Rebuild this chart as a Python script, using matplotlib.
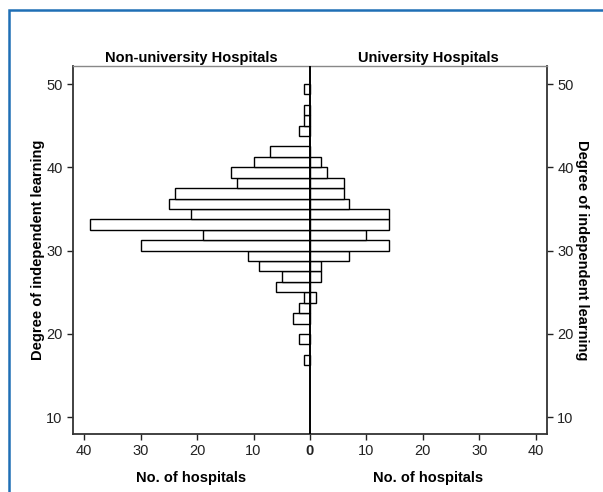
import numpy as np
import matplotlib
matplotlib.use("Agg")
import matplotlib.pyplot as plt
from matplotlib.patches import Rectangle

plt.rcParams["font.family"] = ["Liberation Sans", "DejaVu Sans"]
plt.rcParams["font.size"] = 10

# histogram bins of "degree of independent learning" (lower edges, width 1.25)
bin_lower = [16.25, 17.5, 18.75, 20.0, 21.25, 22.5, 23.75, 25.0, 26.25,
             27.5, 28.75, 30.0, 31.25, 32.5, 33.75, 35.0, 36.25, 37.5,
             38.75, 40.0, 41.25, 42.5, 43.75, 45.0, 46.25, 47.5, 48.75]
bin_width = 1.25

# number of hospitals per bin
non_university = [1, 0, 2, 0, 3, 2, 1, 6, 5, 9, 11, 30, 19, 39, 21, 25, 24, 13,
                  14, 10, 7, 0, 2, 1, 1, 0, 1]
university = [0, 0, 0, 0, 0, 0, 1, 0, 2, 2, 7, 14, 10, 14, 14, 7, 6, 6,
              3, 2, 0, 0, 0, 0, 0, 0, 0]

x_ticks = [-40, -30, -20, -10, 0, 10, 20, 30, 40]
y_ticks = [10, 20, 30, 40, 50]

fig = plt.figure(figsize=(6.03, 4.92), dpi=100)
ax = fig.add_axes([0.121, 0.118, 0.786, 0.7485])

centers = np.array(bin_lower) + bin_width / 2
nu = np.array(non_university)
un = np.array(university)

m = nu > 0
ax.barh(centers[m], -nu[m], height=bin_width, color="white",
        edgecolor="black", linewidth=1.0, zorder=2)
m = un > 0
ax.barh(centers[m], un[m], height=bin_width, color="white",
        edgecolor="black", linewidth=1.0, zorder=2)

ax.axvline(0, color="black", linewidth=1.4, zorder=3)

ax.set_xlim(-42, 42)
ax.set_ylim(8, 52.2)
ax.set_xticks(x_ticks)
ax.set_xticklabels([str(abs(t)) for t in x_ticks])
for lbl in ax.get_xticklabels():
    if lbl.get_text() == "0":
        lbl.set_fontweight("bold")
ax.set_yticks(y_ticks)
ax.tick_params(direction="out", length=4, width=1, colors="#222222",
               labelsize=10.5, left=True, labelleft=True,
               right=True, labelright=True)
ax.grid(False)

for side in ["left", "right", "bottom"]:
    ax.spines[side].set_color("#333333")
    ax.spines[side].set_linewidth(1.3)
ax.spines["top"].set_color("#888888")
ax.spines["top"].set_linewidth(1.0)

# y labels on both sides
fig.text(38 / 603, 1 - 250 / 492, "Degree of independent learning",
         rotation=90, ha="center", va="center", fontweight="bold", fontsize=10.5)
fig.text(582 / 603, 1 - 250 / 492, "Degree of independent learning",
         rotation=270, ha="center", va="center", fontweight="bold", fontsize=10.5)

# panel titles and x labels
ax.text(-21, 1.002, "Non-university Hospitals", transform=ax.get_xaxis_transform(),
        ha="center", va="bottom", fontweight="bold", fontsize=10.5)
ax.text(21, 1.002, "University Hospitals", transform=ax.get_xaxis_transform(),
        ha="center", va="bottom", fontweight="bold", fontsize=10.5)
ax.text(-21, -0.1, "No. of hospitals", transform=ax.get_xaxis_transform(),
        ha="center", va="top", fontweight="bold", fontsize=10.5)
ax.text(21, -0.1, "No. of hospitals", transform=ax.get_xaxis_transform(),
        ha="center", va="top", fontweight="bold", fontsize=10.5)

# blue frame around the figure
fig.patches.append(Rectangle((9 / 603, -0.2), 1.2, 1 - 10 / 492 + 0.2,
                             transform=fig.transFigure, fill=False,
                             edgecolor="#1f6fb5", linewidth=1.8))

fig.savefig("out.png", dpi=100)
